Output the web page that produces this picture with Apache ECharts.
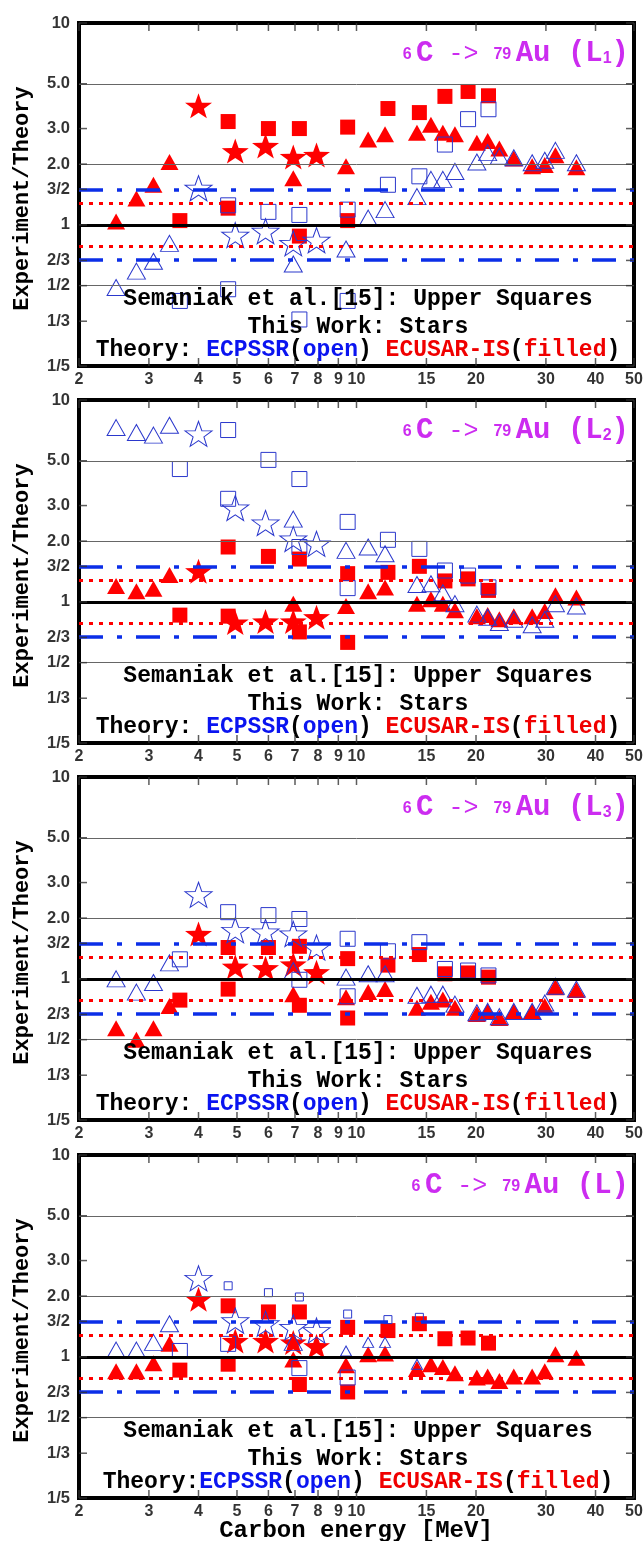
<!DOCTYPE html>
<html>
<head>
<meta charset="utf-8">
<script src="https://cdn.jsdelivr.net/npm/echarts@6/dist/echarts.min.js"></script>
<style>
  html, body { margin: 0; padding: 0; background: #fff; }
  #chart { width: 643px; height: 1541px; }
</style>
</head>
<body>
<div id="chart"></div>
<script>
// beam energies (MeV) shared by the panels
const E_TRI = [2.48, 2.79, 3.08, 3.38, 6.93, 9.41, 10.7, 11.8, 14.2, 15.4, 16.5, 17.7, 20.1, 21.4, 22.9, 24.9, 27.7, 29.8, 31.7, 35.8];
const E_STAR = [4.0, 4.95, 5.9, 6.93, 7.93];
const E_SQ = [3.59, 4.75, 6.0, 7.18, 9.5, 12.0, 14.4, 16.7, 19.1, 21.5];

// axis ticks
const X_TICKS = [2, 3, 4, 5, 6, 7, 8, 9, 10, 15, 20, 30, 40, 50];
const X_TICK_LABELS = ['2', '3', '4', '5', '6', '7', '8', '9', '10', '15', '20', '30', '40', '50'];
const Y_TICKS = [10, 5, 3, 2, 1.5, 1, 2 / 3, 0.5, 1 / 3, 0.2];
const Y_TICK_LABELS = ['10', '5.0', '3.0', '2.0', '3/2', '1', '2/3', '1/2', '1/3', '1/5'];

// reference lines
const THIN_LINES = [5, 2, 0.5];
const ECPSSR_BAND = [3 / 2, 2 / 3];
const ECUSAR_BAND = [1.28, 1 / 1.28];

// L1
const L1_TRI_FILLED = [1.04, 1.35, 1.58, 2.05, 1.70, 1.95, 2.65, 2.81, 2.86, 3.13, 2.86, 2.81, 2.55, 2.60, 2.39, 2.13, 1.95, 1.98, 2.21, 1.93];
const L1_TRI_OPEN = [0.49, 0.59, 0.66, 0.81, 0.64, 0.76, 1.08, 1.19, 1.38, 1.68, 1.68, 1.84, 2.05, 2.28, 2.19, 2.15, 2.03, 2.09, 2.34, 2.03];
const L1_STAR_FILLED = [3.89, 2.32, 2.46, 2.17, 2.22];
const L1_STAR_OPEN = [1.52, 0.89, 0.93, 0.81, 0.84];
const L1_SQ_FILLED_UP = [null, 3.25, 3.0, 3.0, 3.05, 3.77, 3.6, 4.33, 4.58, 4.36];
const L1_SQ_OPEN_UP = [null, 1.25, 1.16, 1.12, 1.19, 1.58, 1.74, 2.50, 3.34, 3.74];
const L1_SQ_FILLED_LO = [1.05, 1.21, null, 0.88, 1.05, null, null, null, null, null];
const L1_SQ_OPEN_LO = [0.42, 0.48, null, 0.34, 0.42, null, null, null, null, null];

// L2
const L2_TRI_FILLED = [1.20, 1.13, 1.16, 1.36, 0.98, 0.955, 1.13, 1.18, 0.98, 1.03, 0.98, 0.91, 0.85, 0.86, 0.82, 0.85, 0.85, 0.90, 1.08, 1.05];
const L2_TRI_OPEN = [7.3, 6.9, 6.7, 7.5, 2.57, 1.80, 1.87, 1.73, 1.22, 1.23, 1.11, 0.98, 0.87, 0.84, 0.79, 0.82, 0.77, 0.82, 0.98, 0.955];
const L2_STAR_FILLED = [1.42, 0.79, 0.80, 0.80, 0.84];
const L2_STAR_OPEN = [6.8, 2.92, 2.46, 2.05, 1.94];
const L2_SQ_FILLED_UP = [null, 1.87, 1.68, 1.63, 1.38, 1.40, 1.50, 1.27, 1.30, 1.14];
const L2_SQ_OPEN_UP = [null, 7.1, 5.05, 4.06, 2.49, 2.03, 1.83, 1.43, 1.35, 1.18];
const L2_SQ_FILLED_LO = [0.86, 0.85, null, 0.71, 0.63, null, null, null, null, null];
const L2_SQ_OPEN_LO = [4.55, 3.24, null, 1.87, 1.17, null, null, null, null, null];

// L3
const L3_TRI_FILLED = [0.57, 0.50, 0.57, 0.735, 0.84, 0.81, 0.86, 0.89, 0.72, 0.77, 0.79, 0.72, 0.67, 0.69, 0.64, 0.69, 0.69, 0.735, 0.91, 0.88];
const L3_TRI_OPEN = [1.0, 0.86, 0.96, 1.20, 1.10, 1.02, 1.06, 1.06, 0.83, 0.84, 0.84, 0.75, 0.68, 0.69, 0.65, 0.69, 0.69, 0.76, 0.92, 0.89];
const L3_STAR_FILLED = [1.67, 1.15, 1.13, 1.18, 1.08];
const L3_STAR_OPEN = [2.61, 1.74, 1.71, 1.67, 1.43];
const L3_SQ_FILLED_UP = [null, 1.43, 1.43, 1.45, 1.26, 1.17, 1.32, 1.06, 1.07, 1.02];
const L3_SQ_OPEN_UP = [null, 2.14, 2.07, 1.98, 1.58, 1.37, 1.52, 1.12, 1.10, 1.04];
const L3_SQ_FILLED_LO = [0.785, 0.89, null, 0.74, 0.64, null, null, null, null, null];
const L3_SQ_OPEN_LO = [1.25, null, null, 0.99, 0.82, null, null, null, null, null];

// L (total)
const L_TRI_FILLED = [0.85, 0.85, 0.93, 1.16, 0.97, 0.91, 1.03, 1.04, 0.87, 0.92, 0.89, 0.83, 0.79, 0.80, 0.76, 0.80, 0.80, 0.85, 1.03, 0.99];
const L_TRI_OPEN = [1.08, 1.08, 1.18, 1.46, 1.18, null, null, null, null, null, null, null, null, null, null, null, null, null, null, null];
const L_TRI_OPEN_SMALL = [null, null, null, null, null, 1.07, 1.18, 1.18, 0.92, null, null, null, null, null, null, null, null, null, null, null];
const L_STAR_FILLED = [1.93, 1.20, 1.20, 1.18, 1.13];
const L_STAR_OPEN = [2.45, 1.51, 1.46, 1.40, 1.35];
const L_SQ_FILLED_UP = [null, 1.79, 1.67, 1.67, 1.40, 1.35, 1.46, 1.23, 1.24, 1.17];
const L_SQ_OPEN_SMALL = [null, 2.25, 2.08, 1.98, 1.63, 1.53, 1.57, null, null, null];
const L_SQ_FILLED_LO = [0.86, 0.92, null, 0.73, 0.67, null, null, null, null, null];
const L_SQ_OPEN_LO = [1.07, 1.16, null, 0.88, 0.79, null, null, null, null, null];

const SHELLS = ['1', '2', '3', ''];
const THEORY_SEP = [' ', ' ', ' ', ''];

const RED = '#ff0000';
const BLUE = '#2b38cc';
const LINE_BLUE = '#0b2ee8';
const MAGENTA = '#cc2cf0';
const MONO = '"Liberation Mono", "Courier New", monospace';
const SANS = '"Liberation Sans", Arial, sans-serif';
const STAR = 'path://M50,0L61.76,33.82L97.55,34.55L69.02,56.18L79.39,90.45L50,70L20.61,90.45L30.98,56.18L2.45,34.55L38.24,33.82Z';

const panels = [
  { triF: L1_TRI_FILLED, triO: L1_TRI_OPEN, starF: L1_STAR_FILLED, starO: L1_STAR_OPEN,
    sqF: [L1_SQ_FILLED_UP, L1_SQ_FILLED_LO], sqO: [L1_SQ_OPEN_UP, L1_SQ_OPEN_LO] },
  { triF: L2_TRI_FILLED, triO: L2_TRI_OPEN, starF: L2_STAR_FILLED, starO: L2_STAR_OPEN,
    sqF: [L2_SQ_FILLED_UP, L2_SQ_FILLED_LO], sqO: [L2_SQ_OPEN_UP, L2_SQ_OPEN_LO] },
  { triF: L3_TRI_FILLED, triO: L3_TRI_OPEN, starF: L3_STAR_FILLED, starO: L3_STAR_OPEN,
    sqF: [L3_SQ_FILLED_UP, L3_SQ_FILLED_LO], sqO: [L3_SQ_OPEN_UP, L3_SQ_OPEN_LO] },
  { triF: L_TRI_FILLED, triO: L_TRI_OPEN, triOSmall: L_TRI_OPEN_SMALL, starF: L_STAR_FILLED, starO: L_STAR_OPEN,
    sqF: [L_SQ_FILLED_UP, L_SQ_FILLED_LO], sqO: [L_SQ_OPEN_LO], sqOSmall: L_SQ_OPEN_SMALL }
];

const GRID_TOPS = [23, 400, 777, 1155];
const GRID_LEFT = 79, GRID_W = 555, GRID_H = 343;

function pairs(xs, ys) {
  return xs.map((x, i) => [x, ys[i]]).filter(p => p[1] != null);
}

function marks(gi, data, symbol, size, filled, z) {
  return {
    type: 'scatter', xAxisIndex: gi, yAxisIndex: gi, z: z,
    symbol: symbol, symbolSize: size, data: data, silent: true,
    itemStyle: filled
      ? { color: RED, opacity: 1 }
      : { color: 'rgba(0,0,0,0)', borderColor: BLUE, borderWidth: 1, opacity: 1 }
  };
}

const option = { animation: false, grid: [], xAxis: [], yAxis: [], series: [], graphic: [] };

panels.forEach((p, gi) => {
  const top = GRID_TOPS[gi];
  option.grid.push({ left: GRID_LEFT, top: top, width: GRID_W, height: GRID_H,
    show: true, borderColor: '#000', borderWidth: 4, backgroundColor: 'rgba(0,0,0,0)' });
  option.xAxis.push({ gridIndex: gi, type: 'log', logBase: 10, min: 2, max: 50,
    axisLine: { show: false }, axisTick: { show: false }, axisLabel: { show: false }, splitLine: { show: false } });
  option.yAxis.push({ gridIndex: gi, type: 'log', logBase: 10, min: 0.2, max: 10,
    axisLine: { show: false }, axisTick: { show: false }, axisLabel: { show: false }, splitLine: { show: false } });

  const lines = [];
  THIN_LINES.forEach(v => lines.push({ yAxis: v, lineStyle: { color: '#666', width: 1, type: 'solid' } }));
  ECUSAR_BAND.forEach(v => lines.push({ yAxis: v, lineStyle: { color: RED, width: 3, type: [4, 6] } }));
  ECPSSR_BAND.forEach(v => lines.push({ yAxis: v, lineStyle: { color: LINE_BLUE, width: 3.5, type: [24, 14, 5, 14] } }));
  lines.push({ yAxis: 1, lineStyle: { color: '#000', width: 3, type: 'solid' } });
  option.series.push({
    type: 'scatter', xAxisIndex: gi, yAxisIndex: gi, z: 1, symbolSize: 0, data: [[2, 1]], silent: true,
    markLine: { silent: true, symbol: ['none', 'none'], label: { show: false }, animation: false, data: lines }
  });

  // markers: filled (ECUSAR-IS) below, open (ECPSSR) on top
  option.series.push(marks(gi, pairs(E_TRI, p.triF), 'triangle', [18, 16], true, 3));
  p.sqF.forEach(arr => option.series.push(marks(gi, pairs(E_SQ, arr), 'rect', 15, true, 3)));
  option.series.push(marks(gi, pairs(E_STAR, p.starF), STAR, [27, 25], true, 3));
  option.series.push(marks(gi, pairs(E_TRI, p.triO), 'triangle', [18, 16], false, 4));
  if (p.triOSmall) option.series.push(marks(gi, pairs(E_TRI, p.triOSmall), 'triangle', [11, 10], false, 4));
  p.sqO.forEach(arr => option.series.push(marks(gi, pairs(E_SQ, arr), 'rect', 15, false, 4)));
  if (p.sqOSmall) option.series.push(marks(gi, pairs(E_SQ, p.sqOSmall), 'rect', 8, false, 4));
  option.series.push(marks(gi, pairs(E_STAR, p.starO), STAR, [27, 25], false, 4));

  // frame ticks
  const tickStyle = { color: '#333' };
  option.series.push({ type: 'scatter', xAxisIndex: gi, yAxisIndex: gi, z: 5, clip: false, silent: true,
    symbol: 'rect', symbolSize: [1.5, 8], symbolOffset: [0, 4], itemStyle: tickStyle,
    data: X_TICKS.map(x => [x, 10]) });
  option.series.push({ type: 'scatter', xAxisIndex: gi, yAxisIndex: gi, z: 5, clip: false, silent: true,
    symbol: 'rect', symbolSize: [1.5, 8], symbolOffset: [0, -4], itemStyle: tickStyle,
    data: X_TICKS.map(x => [x, 0.2]) });
  option.series.push({ type: 'scatter', xAxisIndex: gi, yAxisIndex: gi, z: 5, clip: false, silent: true,
    symbol: 'rect', symbolSize: [8, 1.5], symbolOffset: [4, 0], itemStyle: tickStyle,
    data: Y_TICKS.map(y => [2, y]) });
  option.series.push({ type: 'scatter', xAxisIndex: gi, yAxisIndex: gi, z: 5, clip: false, silent: true,
    symbol: 'rect', symbolSize: [8, 1.5], symbolOffset: [-4, 0], itemStyle: tickStyle,
    data: Y_TICKS.map(y => [50, y]) });

  // tick labels
  option.series.push({ type: 'scatter', xAxisIndex: gi, yAxisIndex: gi, z: 6, clip: false, silent: true,
    symbolSize: 0, itemStyle: { color: 'rgba(0,0,0,0)' },
    data: Y_TICKS.map((y, i) => ({ value: [2, y], name: Y_TICK_LABELS[i] })),
    label: { show: true, position: 'left', distance: 9, formatter: '{b}', color: '#000',
      fontFamily: SANS, fontWeight: 'bold', fontSize: 16.5 } });
  option.series.push({ type: 'scatter', xAxisIndex: gi, yAxisIndex: gi, z: 6, clip: false, silent: true,
    symbolSize: 0, itemStyle: { color: 'rgba(0,0,0,0)' },
    data: X_TICKS.map((x, i) => ({ value: [x, 0.2], name: X_TICK_LABELS[i] })),
    label: { show: true, position: 'bottom', distance: 6, formatter: '{b}', color: '#000',
      fontFamily: SANS, fontWeight: 'bold', fontSize: 16 } });

  // panel title
  const shell = SHELLS[gi];
  const titleText = '{n|6 }{b|C}{a| -> }{n|79 }{b|Au (L}' + (shell ? '{s|' + shell + '}' : '') + '{b|)}';
  option.graphic.push({ type: 'text', x: 629, y: top + 31, z: 10, silent: true,
    style: { text: titleText, align: 'right', verticalAlign: 'middle', textAlign: 'right', textVerticalAlign: 'middle',
      rich: {
        n: { fontFamily: SANS, fontWeight: 'bold', fontSize: 16, fill: MAGENTA, color: MAGENTA, lineHeight: 32,
          verticalAlign: 'bottom', padding: [0, 0, 7, 0] },
        b: { fontFamily: MONO, fontWeight: 'bold', fontSize: 29, fill: MAGENTA, color: MAGENTA, lineHeight: 32 },
        a: { fontFamily: MONO, fontWeight: 'normal', fontSize: 25, fill: MAGENTA, color: MAGENTA, lineHeight: 32 },
        s: { fontFamily: SANS, fontWeight: 'bold', fontSize: 16, fill: MAGENTA, color: MAGENTA, lineHeight: 32,
          verticalAlign: 'bottom', padding: [0, 0, 3, 0] }
      } } });

  // legend notes
  const noteStyle = { fontFamily: MONO, fontWeight: 'bold', fontSize: 23 };
  const mk = (t) => ({ ...noteStyle, fill: t, color: t });
  const notes = [
    '{k|Semaniak et al.[15]: Upper Squares}',
    '{k|This Work: Stars}',
    '{k|Theory:' + THEORY_SEP[gi] + '}{bl|ECPSSR}{k|(}{bl|open}{k|) }{r|ECUSAR-IS}{k|(}{r|filled}{k|)}'
  ];
  const noteY = [276, 304, 327];
  notes.forEach((t, i) => {
    option.graphic.push({ type: 'text', x: 358, y: top + noteY[i], z: 10, silent: true,
      style: { text: t, align: 'center', verticalAlign: 'middle', textAlign: 'center', textVerticalAlign: 'middle',
        rich: { k: mk('#000'), bl: mk('#0a14f0'), r: mk('#f00000') } } });
  });

  // y-axis title
  option.graphic.push({ type: 'text', x: 22, y: top + GRID_H / 2 + 4, rotation: Math.PI / 2, z: 10, silent: true,
    style: { text: 'Experiment/Theory', fill: '#000', fontFamily: MONO, fontWeight: 'bold', fontSize: 22,
      align: 'center', verticalAlign: 'middle', textAlign: 'center', textVerticalAlign: 'middle' } });
});

option.graphic.push({ type: 'text', x: 356, y: 1531, z: 10, silent: true,
  style: { text: 'Carbon energy [MeV]', fill: '#000', fontFamily: MONO, fontWeight: 'bold', fontSize: 24,
    align: 'center', verticalAlign: 'middle', textAlign: 'center', textVerticalAlign: 'middle' } });

const chart = echarts.init(document.getElementById('chart'), null, { renderer: 'canvas' });
chart.setOption(option);
</script>
</body>
</html>
